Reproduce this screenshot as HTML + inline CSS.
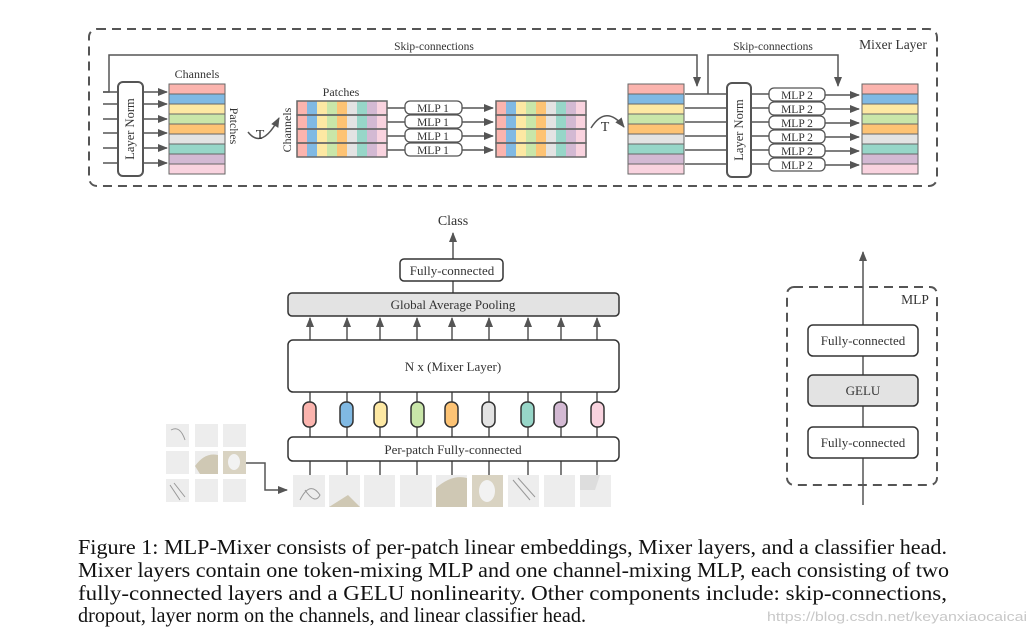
<!DOCTYPE html>
<html><head><meta charset="utf-8"><style>
html,body{margin:0;padding:0;background:#fff;}
svg{display:block;font-family:"Liberation Serif",serif;}
</style></head><body>
<svg width="1035" height="636" viewBox="0 0 1035 636" xmlns="http://www.w3.org/2000/svg">
<defs>
<marker id="a" markerWidth="10" markerHeight="8" refX="9" refY="4" orient="auto" markerUnits="userSpaceOnUse"><path d="M0,0 L10,4 L0,8 z" fill="#555"/></marker>
</defs>
<g fill="none" stroke="#555" stroke-width="1.5">
<rect x="89" y="29" width="848" height="157" rx="8" stroke-dasharray="9,6" stroke-width="2"/>
<path d="M103,92 H109 V55 H697 V86" marker-end="url(#a)"/>
<path d="M708,94 V55 H838 V86" marker-end="url(#a)"/>
<path d="M103,104 H118 M103,119 H118 M103,133 H118 M103,148 H118 M103,163 H118 M103,92 H118"/>
</g>
<g fill="none" stroke="#555" stroke-width="1.5" marker-end="url(#a)">
<path d="M143,92 H167"/><path d="M143,104 H167"/><path d="M143,119 H167"/><path d="M143,133 H167"/><path d="M143,148 H167"/><path d="M143,163 H167"/>
<path d="M248,132 Q262,150 279,118"/>
<path d="M591,128 Q606,104 624,127"/>
<path d="M462,108 H493"/><path d="M462,122 H493"/><path d="M462,136 H493"/><path d="M462,150 H493"/>
<path d="M825,95 H859"/><path d="M825,109 H859"/><path d="M825,123 H859"/><path d="M825,137 H859"/><path d="M825,151 H859"/><path d="M825,165 H859"/>
</g>
<g fill="none" stroke="#555" stroke-width="1.5">
<path d="M387,108 H405 M387,122 H405 M387,136 H405 M387,150 H405"/>
<path d="M685,94 H727 M685,108 H727 M685,122 H727 M685,136 H727 M685,150 H727 M685,164 H727"/>
<path d="M751,94 H769 M751,108 H769 M751,122 H769 M751,136 H769 M751,150 H769 M751,164 H769"/>
<rect x="118" y="82" width="25" height="94" rx="5" fill="#fff" stroke-width="2"/>
<rect x="727" y="83" width="24" height="94" rx="5" fill="#fff" stroke-width="2"/>
</g>
<g stroke="#555" stroke-width="1.3" fill="#fff">
<rect x="405" y="101" width="57" height="13" rx="5"/><rect x="405" y="115" width="57" height="13" rx="5"/><rect x="405" y="129" width="57" height="13" rx="5"/><rect x="405" y="143" width="57" height="13" rx="5"/>
<rect x="769" y="88" width="56" height="13" rx="5"/><rect x="769" y="102" width="56" height="13" rx="5"/><rect x="769" y="116" width="56" height="13" rx="5"/><rect x="769" y="130" width="56" height="13" rx="5"/><rect x="769" y="144" width="56" height="13" rx="5"/><rect x="769" y="158" width="56" height="13" rx="5"/>
</g>
<g stroke="#666" stroke-width="1">
<g id="cm">
<rect x="169" y="84" width="56" height="10" fill="#fbb4ae"/>
<rect x="169" y="94" width="56" height="10" fill="#80b9e3"/>
<rect x="169" y="104" width="56" height="10" fill="#fde8a3"/>
<rect x="169" y="114" width="56" height="10" fill="#c9e6a9"/>
<rect x="169" y="124" width="56" height="10" fill="#fdc374"/>
<rect x="169" y="134" width="56" height="10" fill="#e3e3e3"/>
<rect x="169" y="144" width="56" height="10" fill="#97d6c8"/>
<rect x="169" y="154" width="56" height="10" fill="#d3b9d3"/>
<rect x="169" y="164" width="56" height="10" fill="#f9d3df"/>
</g>
<use href="#cm" x="459"/>
<use href="#cm" x="693"/>
</g>
<g id="pm">
<rect x="297" y="101" width="10" height="56" fill="#fbb4ae"/>
<rect x="307" y="101" width="10" height="56" fill="#80b9e3"/>
<rect x="317" y="101" width="10" height="56" fill="#fde8a3"/>
<rect x="327" y="101" width="10" height="56" fill="#c9e6a9"/>
<rect x="337" y="101" width="10" height="56" fill="#fdc374"/>
<rect x="347" y="101" width="10" height="56" fill="#e3e3e3"/>
<rect x="357" y="101" width="10" height="56" fill="#97d6c8"/>
<rect x="367" y="101" width="10" height="56" fill="#d3b9d3"/>
<rect x="377" y="101" width="10" height="56" fill="#f9d3df"/>
<g fill="none" stroke="#666" stroke-width="1.5"><rect x="297" y="101" width="90" height="14"/><rect x="297" y="115" width="90" height="14"/><rect x="297" y="129" width="90" height="14"/><rect x="297" y="143" width="90" height="14"/></g>
</g>
<use href="#pm" x="199"/>
<g fill="#333" font-size="12" text-anchor="middle">
<text x="434" y="50" font-size="11.5">Skip-connections</text>
<text x="773" y="50" font-size="11.5">Skip-connections</text>
<text x="893" y="49" font-size="13.5">Mixer Layer</text>
<text x="197" y="78">Channels</text>
<text x="341" y="96">Patches</text>
<text x="260" y="139" font-size="14">T</text>
<text x="605" y="131" font-size="14">T</text>
<text transform="translate(134,129) rotate(-90)" font-size="12.5">Layer Norm</text>
<text transform="translate(743,130) rotate(-90)" font-size="12.5">Layer Norm</text>
<text transform="translate(230,126) rotate(90)">Patches</text>
<text transform="translate(291,130) rotate(-90)">Channels</text>
<g font-size="11.5"><text x="433" y="112">MLP 1</text><text x="433" y="126">MLP 1</text><text x="433" y="140">MLP 1</text><text x="433" y="154">MLP 1</text>
<text x="797" y="99">MLP 2</text><text x="797" y="113">MLP 2</text><text x="797" y="127">MLP 2</text><text x="797" y="141">MLP 2</text><text x="797" y="155">MLP 2</text><text x="797" y="169">MLP 2</text></g>
</g>

<g fill="none" stroke="#555" stroke-width="1.5" marker-end="url(#a)">
<path d="M453,259 V233"/>
<path d="M310,340 V318"/><path d="M347,340 V318"/><path d="M380,340 V318"/><path d="M417,340 V318"/><path d="M452,340 V318"/><path d="M489,340 V318"/><path d="M528,340 V318"/><path d="M561,340 V318"/><path d="M597,340 V318"/>
<path d="M246,463 H265 V490 H287"/>
<path d="M863,505 V252"/>
</g>
<g fill="none" stroke="#555" stroke-width="1.5">
<path d="M453,281 V293"/>
<path d="M310,392 V475 M347,392 V475 M380,392 V475 M417,392 V475 M452,392 V475 M489,392 V475 M528,392 V475 M561,392 V475 M597,392 V475"/>
</g>
<g stroke="#333" stroke-width="1.5">
<rect x="400" y="259" width="103" height="22" rx="4" fill="#fff"/>
<rect x="288" y="293" width="331" height="23" rx="4" fill="#e3e3e3"/>
<rect x="288" y="340" width="331" height="52" rx="5" fill="#fff"/>
<rect x="288" y="437" width="331" height="24" rx="5" fill="#fff"/>
<rect x="303" y="402" width="13" height="25" rx="6" fill="#fbb4ae"/>
<rect x="340" y="402" width="13" height="25" rx="6" fill="#80b9e3"/>
<rect x="374" y="402" width="13" height="25" rx="6" fill="#fde8a3"/>
<rect x="411" y="402" width="13" height="25" rx="6" fill="#c9e6a9"/>
<rect x="445" y="402" width="13" height="25" rx="6" fill="#fdc374"/>
<rect x="482" y="402" width="13" height="25" rx="6" fill="#e3e3e3"/>
<rect x="521" y="402" width="13" height="25" rx="6" fill="#97d6c8"/>
<rect x="554" y="402" width="13" height="25" rx="6" fill="#d3b9d3"/>
<rect x="591" y="402" width="13" height="25" rx="6" fill="#f9d3df"/>
</g>
<g fill="#333" text-anchor="middle" font-size="13">
<text x="453" y="225" font-size="14">Class</text>
<text x="452" y="275">Fully-connected</text>
<text x="453" y="309">Global Average Pooling</text>
<text x="453" y="371">N x (Mixer Layer)</text>
<text x="453" y="454">Per-patch Fully-connected</text>
</g>
<g fill="#ededed">
<rect x="293" y="475" width="32" height="32"/><rect x="329" y="475" width="31" height="32"/><rect x="364" y="475" width="31" height="32"/><rect x="400" y="475" width="32" height="32"/><rect x="436" y="475" width="31" height="32"/><rect x="472" y="475" width="31" height="32"/><rect x="508" y="475" width="31" height="32"/><rect x="544" y="475" width="31" height="32"/><rect x="580" y="475" width="31" height="32"/>
<rect x="166" y="424" width="23" height="23"/><rect x="195" y="424" width="23" height="23"/><rect x="223" y="424" width="23" height="23"/>
<rect x="166" y="451" width="23" height="23"/><rect x="195" y="451" width="23" height="23"/><rect x="223" y="451" width="23" height="23"/>
<rect x="166" y="479" width="23" height="23"/><rect x="195" y="479" width="23" height="23"/><rect x="223" y="479" width="23" height="23"/>
</g>
<g fill="#cfc8b4">
<path d="M436,507 L436,488 Q452,474 467,478 L467,507z"/>
<path d="M472,475 H503 V507 H472z" fill="#d9d3c2"/>
<ellipse cx="487" cy="491" rx="8" ry="11" fill="#f2f2f2"/>
<path d="M195,466 Q205,452 218,455 V474 H200z"/>
<path d="M223,451 H246 V474 H223z" fill="#d9d3c2"/>
<ellipse cx="234" cy="462" rx="6" ry="8" fill="#f2f2f2"/>
<path d="M360,507 L348,495 L329,507z"/>
<path d="M580,475 H600 L595,490 H580z" fill="#ddd"/>
</g>
<g fill="none" stroke="#999" stroke-width="1">
<path d="M300,500 Q310,480 320,495 Q315,505 305,490"/><path d="M171,430 Q180,425 185,440"/>
<path d="M513,480 L530,500 M518,478 L535,497"/><path d="M170,485 L180,500 M174,483 L185,497"/>
</g>
<g fill="none" stroke="#555" stroke-width="2">
<rect x="787" y="287" width="150" height="198" rx="7" stroke-dasharray="9,6"/>
</g>
<g stroke="#333" stroke-width="1.5">
<rect x="808" y="325" width="110" height="31" rx="5" fill="#fff"/>
<rect x="808" y="375" width="110" height="31" rx="5" fill="#e3e3e3"/>
<rect x="808" y="427" width="110" height="31" rx="5" fill="#fff"/>
</g>
<g fill="#333" text-anchor="middle" font-size="13">
<text x="915" y="304" font-size="13.5">MLP</text>
<text x="863" y="345">Fully-connected</text>
<text x="863" y="395">GELU</text>
<text x="863" y="447">Fully-connected</text>
</g>
<g fill="#111" font-size="21">
<text x="78" y="554" textLength="869" lengthAdjust="spacingAndGlyphs">Figure 1: MLP-Mixer consists of per-patch linear embeddings, Mixer layers, and a classifier head.</text>
<text x="78" y="577" textLength="871" lengthAdjust="spacingAndGlyphs">Mixer layers contain one token-mixing MLP and one channel-mixing MLP, each consisting of two</text>
<text x="78" y="600" textLength="869" lengthAdjust="spacingAndGlyphs">fully-connected layers and a GELU nonlinearity.  Other components include:  skip-connections,</text>
<text x="78" y="622" textLength="508" lengthAdjust="spacingAndGlyphs">dropout, layer norm on the channels, and linear classifier head.</text>
</g>
<text x="1027" y="621" text-anchor="end" fill="#c8c8c8" font-family="Liberation Sans,sans-serif" font-size="13" textLength="260" lengthAdjust="spacingAndGlyphs">https://blog.csdn.net/keyanxiaocaicai</text>
</svg>
</body></html>
